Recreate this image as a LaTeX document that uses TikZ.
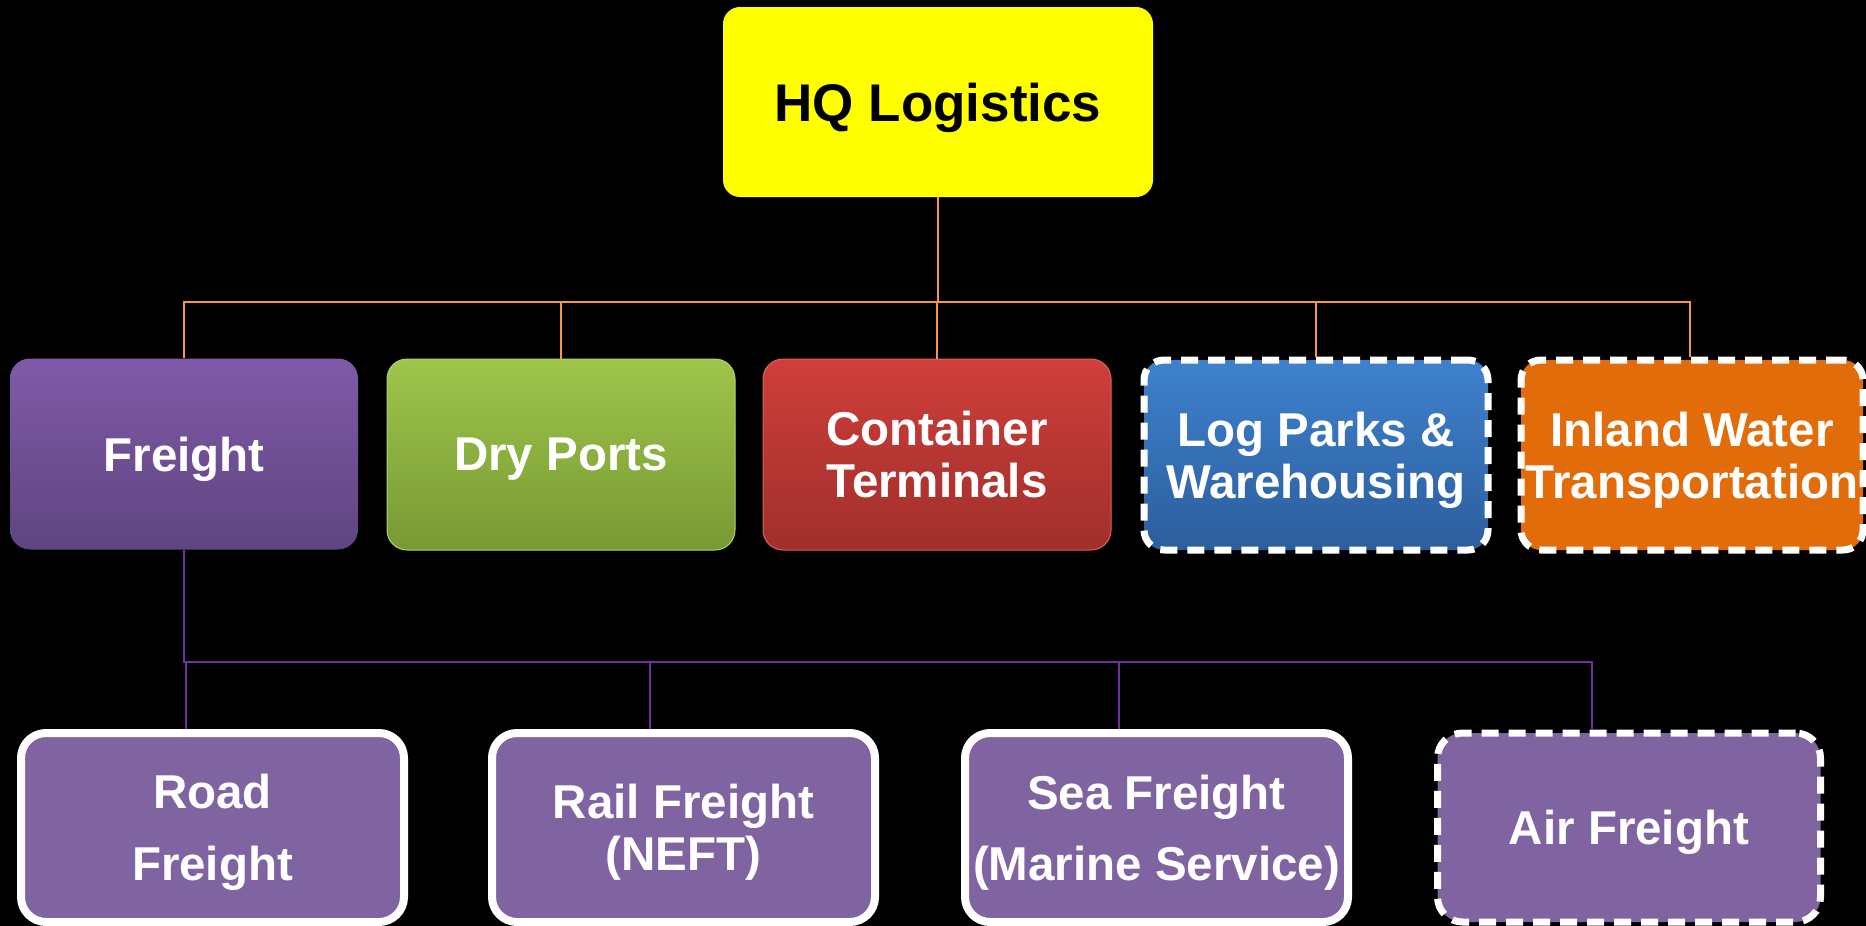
\documentclass[tikz,border=0pt]{standalone}
\usepackage{fontspec}
\setmainfont{Liberation Sans}
\definecolor{hqYel}{RGB}{255,255,0}
\definecolor{frTop}{RGB}{127,90,168}
\definecolor{frBot}{RGB}{95,69,128}
\definecolor{dpTop}{RGB}{158,197,75}
\definecolor{dpBot}{RGB}{120,153,52}
\definecolor{dpEdge}{RGB}{178,212,110}
\definecolor{ctTop}{RGB}{207,62,58}
\definecolor{ctBot}{RGB}{160,47,44}
\definecolor{ctEdge}{RGB}{220,100,95}
\definecolor{lpTop}{RGB}{62,129,206}
\definecolor{lpBot}{RGB}{44,94,156}
\definecolor{iwOr}{RGB}{227,108,10}
\definecolor{subPu}{RGB}{128,100,162}
\definecolor{oLine}{RGB}{247,150,70}
\definecolor{pLine}{RGB}{112,48,160}
\tikzset{
  topbox/.style={rounded corners=20pt, minimum width=348pt, minimum height=191pt,
    inner sep=0pt, text=white, font=\bfseries\fontsize{47.5}{52}\selectfont,
    align=center, text depth=0pt},
  hqbox/.style={rounded corners=17pt, fill=hqYel, minimum width=430pt, minimum height=190pt,
    inner sep=0pt, text=black, font=\bfseries\fontsize{53}{58}\selectfont, text depth=0pt},
  subbox/.style={rounded corners=25pt, fill=subPu, draw=white, line width=8pt,
    minimum width=383pt, minimum height=189pt, inner sep=0pt, text=white,
    font=\bfseries\fontsize{47.5}{52}\selectfont, align=center, text depth=0pt},
  dashbox/.style={draw=white, line width=7pt, dash pattern=on 17pt off 10pt},
  oline/.style={draw=oLine, line width=2pt},
  pline/.style={draw=pLine, line width=2pt}
}
\begin{document}
\begin{tikzpicture}[x=1pt,y=-1pt]
\fill[black] (0,0) rectangle (1866,926);
\useasboundingbox (0,0) rectangle (1866,926);
\coordinate (busO) at (0,302);
\coordinate (busP) at (0,662);

\node[hqbox] (hq) at (938,102) {HQ Logistics};

\node[topbox, top color=frTop, bottom color=frBot] (freight) at (184,454) {Freight};
\node[topbox, top color=dpTop, bottom color=dpBot, draw=dpEdge, line width=1pt] (dry) at (561,454.5) {Dry Ports};
\node[topbox, top color=ctTop, bottom color=ctBot, draw=ctEdge, line width=1pt] (cont) at (937,454.5) {Container\\Terminals};
\node[topbox, top color=lpTop, bottom color=lpBot, dashbox, minimum width=344pt, minimum height=190pt] (logp) at (1316,455) {Log Parks \&\\Warehousing};
\node[topbox, fill=iwOr, dashbox, minimum width=342pt, minimum height=190pt] (inland) at (1692,455) {Inland Water\\Transportation};

\node[subbox] (road) at (212.5,827.5) {Road\\[20pt]Freight};
\node[subbox] (rail) at (683.5,827.5) {Rail Freight\\(NEFT)};
\node[subbox] (sea) at (1156.5,827.5) {Sea Freight\\[19pt](Marine Service)};
\node[subbox, dashbox, line width=7pt] (air) at (1629,827.5) {Air Freight};

% orange connectors
\draw[oline] (hq.south) -- (hq.south |- busO);
\draw[oline] (freight.north) -- (freight.north |- busO) -- ([xshift=-2pt]inland.north |- busO) -- ([xshift=-2pt]inland.north);
\draw[oline] (dry.north) -- (dry.north |- busO);
\draw[oline] (cont.north) -- (cont.north |- busO);
\draw[oline] (logp.north) -- (logp.north |- busO);

% purple connectors
\draw[pline] (freight.south) -- (freight.south |- busP) -| ([xshift=-37pt]air.north);
\draw[pline] ([xshift=-26.5pt]road.north) -- ([xshift=-26.5pt]road.north |- busP);
\draw[pline] ([xshift=-33.5pt]rail.north) -- ([xshift=-33.5pt]rail.north |- busP);
\draw[pline] ([xshift=-37.5pt]sea.north) -- ([xshift=-37.5pt]sea.north |- busP);
\end{tikzpicture}
\end{document}
